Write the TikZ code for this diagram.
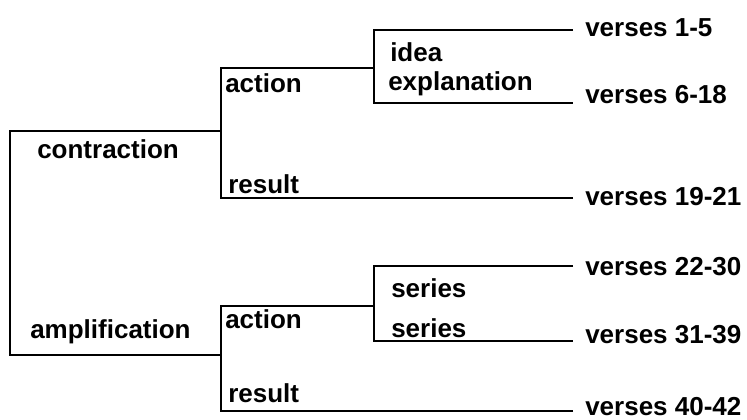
\documentclass[tikz,border=0pt]{standalone}
\usepackage{fontspec}
\setmainfont{Liberation Sans}
\usetikzlibrary{positioning,calc}
\tikzset{
  lbl/.style={anchor=base west,inner sep=0pt,font=\fontsize{19.5}{22}\selectfont\bfseries},
  tree/.style={line width=1pt}
}

\begin{document}
\begin{tikzpicture}[x=0.75pt,y=-0.75pt]
            \useasboundingbox (0,0) rectangle (747,419);
            % branch points
            \coordinate (ct) at (10,131);
            \coordinate (cb) at (10,355);
            \coordinate (uaM) at (221,131);
            \coordinate (uaT) at (221,68);
            \coordinate (uaB) at (221,198);
            \coordinate (laM) at (221,355);
            \coordinate (laT) at (221,306);
            \coordinate (laB) at (221,411);
            \coordinate (ideaM) at (374,68);
            \coordinate (ideaT) at (374,30);
            \coordinate (ideaB) at (374,103);
            \coordinate (serM) at (374,306);
            \coordinate (serT) at (374,266);
            \coordinate (serB) at (374,341);
            % line ends
            \coordinate (e1) at (573,30);
            \coordinate (e2) at (573,103);
            \coordinate (e3) at (573,198);
            \coordinate (e4) at (573,266);
            \coordinate (e5) at (573,341);
            \coordinate (e6) at (573,411);
            % labels
            \node[lbl] (contr) at (37,158) {contraction};
            \node[lbl] (ampl) at (30,338) {amplification};
            \node[lbl] (act1) at (225,92) {action};
            \node[lbl] (res1) at (228,193) {result};
            \node[lbl] (act2) at (225,328) {action};
            \node[lbl] (res2) at (228,402) {result};
            \node[lbl] (idea) at (390,61) {idea};
            \node[lbl] (expl) at (388,90) {explanation};
            \node[lbl] (ser1) at (391,297) {series};
            \node[lbl] (ser2) at (391,337) {series};
            \node[lbl] (v1) at (585,36) {verses 1-5};
            \node[lbl] (v2) at (585,103) {verses 6-18};
            \node[lbl] (v3) at (585,205) {verses 19-21};
            \node[lbl] (v4) at (585,275) {verses 22-30};
            \node[lbl] (v5) at (585,343) {verses 31-39};
            \node[lbl] (v6) at (585,415) {verses 40-42};
            % brackets
            \draw[tree] (uaM) -- (ct) -- (cb) -- (laM);
            \draw[tree] (e3) -- (uaB) -- (uaT) -- (ideaM);
            \draw[tree] (e1) -- (ideaT) -- (ideaB) -- (e2);
            \draw[tree] (e6) -- (laB) -- (laT) -- (serM);
            \draw[tree] (e4) -- (serT) -- (serB) -- (e5);
        \end{tikzpicture}
\end{document}
